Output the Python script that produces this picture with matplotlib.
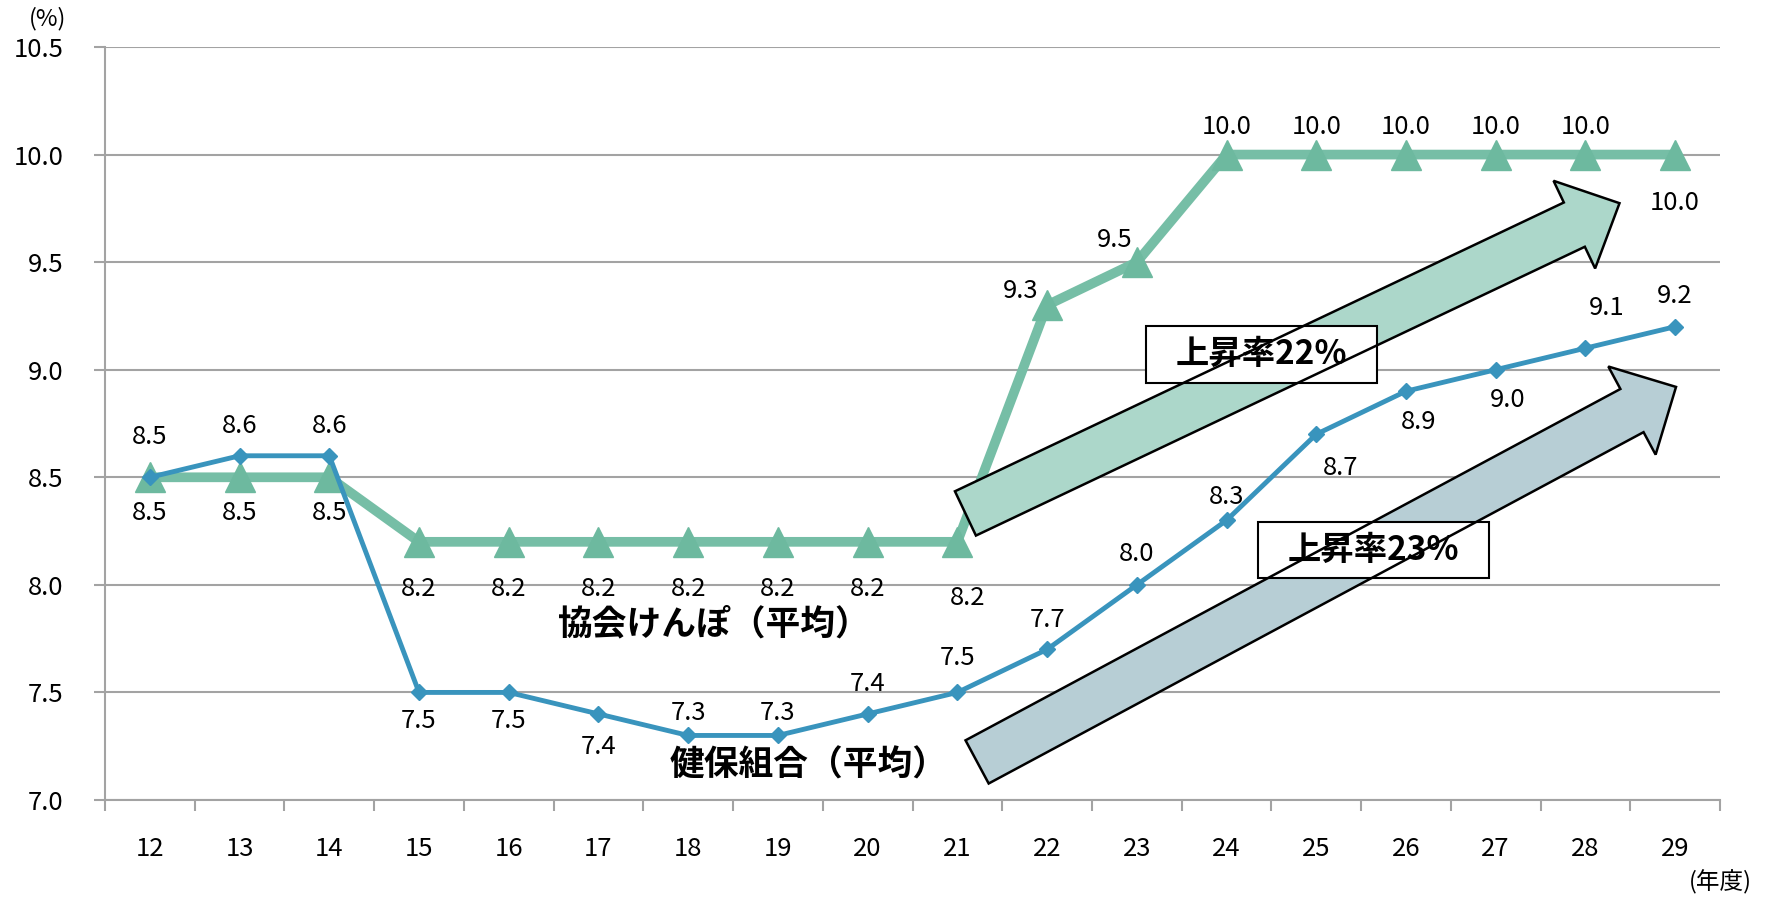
import numpy as np
import matplotlib
matplotlib.use('Agg')
import matplotlib.pyplot as plt
from matplotlib.patches import Polygon, Rectangle

plt.rcParams['font.family'] = ['Noto Sans CJK JP', 'DejaVu Sans']

# Data (保険料率, %)
years = ['12', '13', '14', '15', '16', '17', '18', '19', '20',
         '21', '22', '23', '24', '25', '26', '27', '28', '29']
kyokai = [8.5, 8.5, 8.5, 8.2, 8.2, 8.2, 8.2, 8.2, 8.2,
          8.2, 9.3, 9.5, 10.0, 10.0, 10.0, 10.0, 10.0, 10.0]
kenpo = [8.5, 8.6, 8.6, 7.5, 7.5, 7.4, 7.3, 7.3, 7.4,
         7.5, 7.7, 8.0, 8.3, 8.7, 8.9, 9.0, 9.1, 9.2]
y_ticks = [7.0, 7.5, 8.0, 8.5, 9.0, 9.5, 10.0, 10.5]

# Label offsets in pixels (dx, dy; up is positive)
KYOKAI_OFF = [(0, -36)] * 3 + [(0, -47)] * 6 + [(10, -56), (-26, 14), (-22, 22)] \
    + [(0, 28)] * 5 + [(0, -48)]
KENPO_OFF = [(0, 40), (0, 30), (0, 30), (0, -29), (0, -29), (0, -33),
             (0, 22), (0, 22), (0, 30), (0, 34), (0, 29), (0, 31), (0, 23),
             (24, -34), (13, -31), (12, -30), (21, 40), (0, 31)]

# Colors
GREEN = '#76BEA6'
GREEN_MK = '#6DB99F'
GREEN_FILL = '#ACD7CA'
BLUE = '#3994BD'
BLUE_FILL = '#B7CED5'
GRID = '#A3A3A3'

NUM_FS = 18.5


def block_arrow(ax, tail, tip, shaft_w, head_w, head_l, face):
    """Draw a block arrow; widths are in pixels."""
    p0 = ax.transData.transform(tail)
    p1 = ax.transData.transform(tip)
    d = p1 - p0
    u = d / np.hypot(*d)
    n = np.array([-u[1], u[0]])
    base = p1 - u * head_l
    pts = [p0 + n * shaft_w / 2, base + n * shaft_w / 2, base + n * head_w / 2,
           p1, base - n * head_w / 2, base - n * shaft_w / 2, p0 - n * shaft_w / 2]
    pts = ax.transData.inverted().transform(np.array(pts))
    ax.add_patch(Polygon(pts, closed=True, facecolor=face, edgecolor='none', zorder=5))
    ax.add_patch(Polygon(pts, closed=True, fill=False, edgecolor='black', lw=1.8, zorder=7))


def label_box(ax, center, w, h, text):
    c = ax.transData.transform(center)
    ll = ax.transData.inverted().transform(c - np.array([w / 2, h / 2]))
    ur = ax.transData.inverted().transform(c + np.array([w / 2, h / 2]))
    ax.add_patch(Rectangle(ll, ur[0] - ll[0], ur[1] - ll[1], facecolor='white',
                           edgecolor='black', lw=1.5, zorder=6))
    ax.text(center[0], center[1], text, ha='center', va='center', fontsize=24,
            fontweight='bold', zorder=8)


fig = plt.figure(figsize=(17.69, 8.97), dpi=100)
ax = fig.add_axes([105 / 1769, 1 - 800 / 897, 1615 / 1769, 753 / 897])

x = np.arange(len(years))
ax.plot(x, kyokai, color=GREEN, lw=7, marker='^', ms=21, mfc=GREEN_MK,
        mec=GREEN_MK, zorder=3)
ax.plot(x, kenpo, color=BLUE, lw=3.5, marker='D', ms=8, mfc=BLUE, mec=BLUE, zorder=4)

ax.set_xlim(-0.5, len(years) - 0.5)
ax.set_ylim(7.0, 10.5)
ax.set_yticks(y_ticks)
ax.set_yticklabels([f'{v:.1f}' for v in y_ticks], fontsize=NUM_FS)
ax.set_xticks(x)
ax.set_xticklabels(years, fontsize=NUM_FS)
ax.set_xticks(np.arange(len(years) + 1) - 0.5, minor=True)
ax.tick_params(axis='x', which='major', length=0, pad=26)
ax.tick_params(axis='x', which='minor', length=8, width=1.5, color=GRID)
ax.tick_params(axis='y', length=8, width=1.5, color=GRID, pad=22)
ax.grid(axis='y', color=GRID, lw=1.5)
ax.set_axisbelow(True)
for s in ['top', 'right']:
    ax.spines[s].set_visible(False)
for s in ['left', 'bottom']:
    ax.spines[s].set_color(GRID)
    ax.spines[s].set_linewidth(1.5)

# data labels
for i, (v, off) in enumerate(zip(kyokai, KYOKAI_OFF)):
    ax.annotate(f'{v:.1f}', (i, v), xytext=off, textcoords='offset pixels',
                ha='center', va='center', fontsize=NUM_FS, zorder=9)
for i, (v, off) in enumerate(zip(kenpo, KENPO_OFF)):
    ax.annotate(f'{v:.1f}', (i, v), xytext=off, textcoords='offset pixels',
                ha='center', va='center', fontsize=NUM_FS, zorder=9)

# series names
ax.text(6.29, 7.818, '協会けんぽ（平均）', ha='center', va='center',
        fontsize=25, fontweight='bold', zorder=9)
ax.text(7.34, 7.163, '健保組合（平均）', ha='center', va='center',
        fontsize=25, fontweight='bold', zorder=9)

# arrows and boxes
block_arrow(ax, (9.09, 8.332), (16.38, 9.774), 49, 97, 50, GREEN_FILL)
block_arrow(ax, (9.22, 7.177), (17.01, 8.920), 49, 100, 50, BLUE_FILL)
label_box(ax, (12.39, 9.073), 231, 57, '上昇率22%')
label_box(ax, (13.64, 8.162), 231, 56, '上昇率23%')

fig.text(48 / 1769, 1 - 19 / 897, '(%)', ha='center', va='center', fontsize=17)
fig.text(1720 / 1769, 1 - 882 / 897, '(年度)', ha='center', va='center', fontsize=17)

fig.savefig('out.png', dpi=100)
